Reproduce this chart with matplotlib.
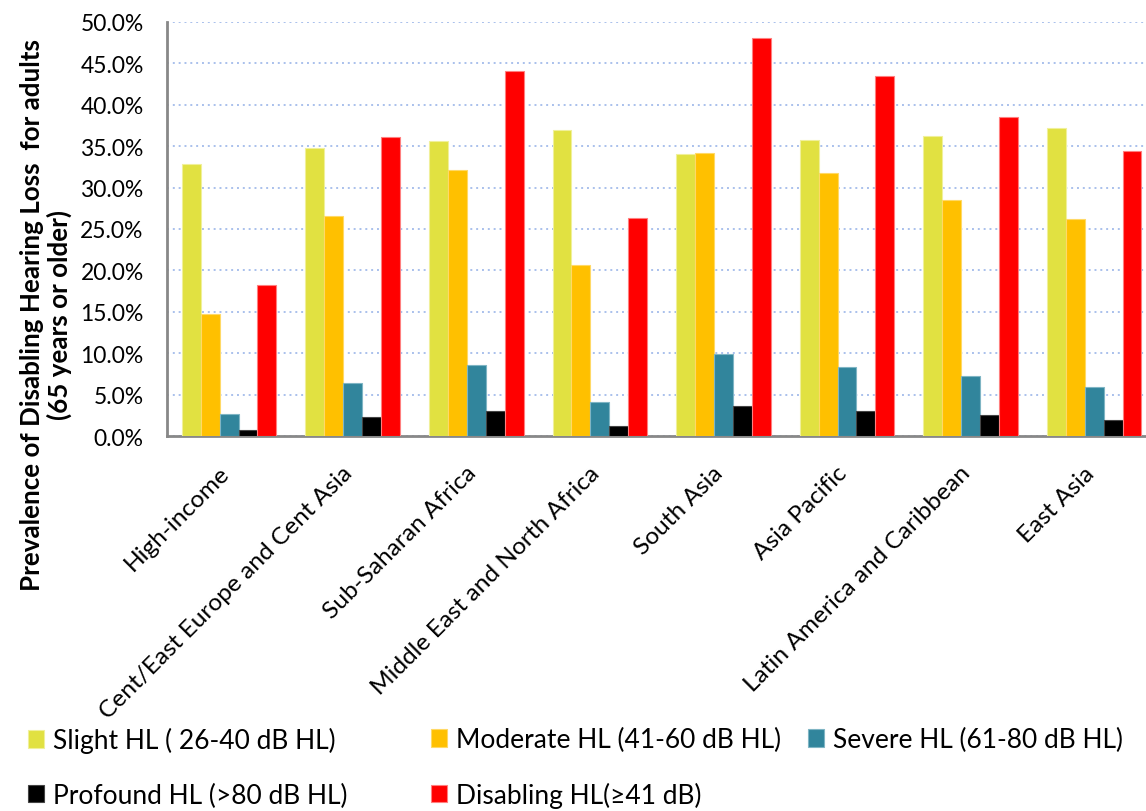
import numpy as np
import matplotlib
matplotlib.use("Agg")
import matplotlib.pyplot as plt
import matplotlib.transforms as mtransforms
from matplotlib.ticker import FuncFormatter

plt.rcParams['font.family'] = ['Lato', 'DejaVu Sans']

regions = ['High-income', 'Cent/East Europe and Cent Asia', 'Sub-Saharan Africa',
           'Middle East and North Africa', 'South Asia', 'Asia Pacific',
           'Latin America and Caribbean', 'East Asia']

slight = [32.8, 34.8, 35.6, 36.9, 34.1, 35.7, 36.2, 37.2]
moderate = [14.8, 26.6, 32.1, 20.7, 34.2, 31.8, 28.5, 26.2]
severe = [2.7, 6.4, 8.6, 4.1, 9.9, 8.4, 7.3, 6.0]
profound = [0.8, 2.3, 3.1, 1.3, 3.7, 3.1, 2.6, 2.0]
disabling = [18.3, 36.1, 44.1, 26.3, 48.0, 43.4, 38.5, 34.4]

series_labels = ['Slight HL ( 26-40 dB HL)', 'Moderate HL (41-60 dB HL)',
                 'Severe HL (61-80 dB HL)', 'Profound HL (>80 dB HL)',
                 'Disabling HL(\u226541 dB)']
colors = ['#E1E141', '#FFC000', '#31859C', '#000000', '#FF0000']
edges = ['#F0F09A', '#FFD966', '#7FB5C4', '#444444', '#FF7F7F']

W, H = 1146, 812
fig = plt.figure(figsize=(W / 100, H / 100), dpi=100)
ax = fig.add_axes([167.3 / W, 1 - 437.3 / H, (1156 - 167.3) / W, (437.3 - 22.7) / H])

x = np.arange(len(regions))
bw = 0.153
handles = []
for i, (vals, col, ec, lab) in enumerate(zip([slight, moderate, severe, profound, disabling],
                                             colors, edges, series_labels)):
    b = ax.bar(x + (i - 2) * bw, vals, bw, color=col, edgecolor=ec, linewidth=0.8,
               label=lab, zorder=3)
    handles.append(b)

ax.set_xlim(-0.5, len(regions) - 0.5)
ax.set_ylim(0, 50)
ax.set_yticks(np.arange(0, 50.1, 5))
ax.yaxis.set_major_formatter(FuncFormatter(lambda v, p: f'{v:.1f}%'))
ax.yaxis.grid(True, linestyle=(0, (1, 2)), color='#A9C0EC', linewidth=1.4, zorder=0)
ax.tick_params(axis='y', length=0, labelsize=16.5, pad=17)
ax.tick_params(axis='x', length=0)

ax.set_xticks(x)
ax.set_xticklabels(regions, rotation=45, ha='right', va='top',
                   rotation_mode='anchor', fontsize=17.6)
shift = mtransforms.ScaledTranslation(-11 / 100, 0, fig.dpi_scale_trans)
for lbl in ax.get_xticklabels():
    lbl.set_y(-0.05)
    lbl.set_transform(lbl.get_transform() + shift)

for side in ['top', 'right']:
    ax.spines[side].set_visible(False)
for side in ['left', 'bottom']:
    ax.spines[side].set_color('#888888')
    ax.spines[side].set_linewidth(2)

fig.text(46 / W, 1 - 315 / H,
         'Prevalence of Disabling Hearing Loss  for adults\n(65 years or older)',
         rotation=90, ha='center', va='center', multialignment='center',
         fontsize=18.7, fontweight='bold', linespacing=1.1)

# one legend per column so each column starts where it should
legend_cols = [([0, 3], 28), ([1, 4], 431), ([2], 808)]
for idx, x0 in legend_cols:
    leg = fig.legend([handles[i] for i in idx], [series_labels[i] for i in idx],
                     loc='upper left', bbox_to_anchor=(x0 / W, 1 - 728 / H),
                     frameon=False, fontsize=19, handlelength=0.6, handleheight=0.65,
                     handletextpad=0.35, labelspacing=1.12, borderaxespad=0,
                     borderpad=0)

fig.savefig('out.png', dpi=100)
